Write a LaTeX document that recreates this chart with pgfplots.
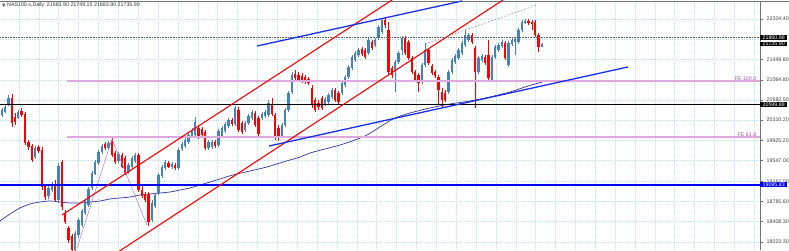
\documentclass[border=0pt]{standalone}
\usepackage{pgfplots}
\pgfplotsset{compat=1.18}
\usepackage{pgfplotstable}
\usepackage{fontspec}
\setmainfont{Liberation Sans}
\definecolor{cblue}{RGB}{70,130,180}
\definecolor{cred}{RGB}{255,0,0}
\definecolor{gridc}{RGB}{185,225,238}
\definecolor{fepink}{RGB}{222,170,222}
\definecolor{fetext}{RGB}{170,80,170}
\definecolor{maline}{RGB}{55,50,150}
\definecolor{tlblue}{RGB}{25,45,235}
\definecolor{hblue}{RGB}{0,0,235}
\pgfplotstableread{
x o h l c
2 20405 20536 20367 20498
5 20461 20592 20442 20555
8.5 20592 20780 20573 20723
18 20348 20498 20330 20461
35 19617 19823 19580 19786
48.5 18886 19073 18830 19036
52 18998 19148 18961 19111
58.5 18811 19505 18755 19448
75 17873 18230 17798 18192
78.5 18155 18473 18098 18436
82 18342 18642 18305 18605
85 18567 18830 18530 18792
88.5 18717 19055 18680 19017
92 19036 19355 18998 19317
95 19298 19561 19280 19523
98.5 19505 19748 19467 19711
102 19711 19861 19673 19823
108.5 19786 19917 19767 19880
118.5 19542 19711 19505 19673
128.5 19336 19505 19298 19467
132 19430 19636 19392 19598
135 19542 19692 19505 19655
152 18436 18811 18398 18755
155 18698 18942 18661 18905
158.5 18942 19317 18905 19280
162 19261 19467 19223 19430
165 19411 19561 19373 19523
172 19430 19523 19392 19486
178.5 19411 19786 19373 19748
182 19767 19898 19730 19861
185 19823 19973 19786 19936
188.5 19898 20067 19861 20030
192 19992 20161 19973 20105
195 20030 20367 19992 20273
208.5 19786 19936 19748 19898
212 19805 19936 19767 19898
218.5 19842 20142 19805 20105
222 20011 20198 19973 20161
225 20105 20273 20067 20236
228.5 20198 20348 20161 20311
235 20236 20573 20198 20536
245 20123 20292 20086 20255
248.5 20255 20423 20217 20386
252 20348 20498 20311 20461
262 20348 20461 20311 20423
265 20386 20498 20348 20461
268.5 20405 20686 20367 20630
282 20011 20255 19973 20217
285 20217 20536 20180 20498
288.5 20498 20855 20461 20817
292 20836 21211 20798 21155
325 20611 20742 20573 20705
328.5 20648 20817 20611 20780
332 20742 20911 20705 20873
342 20817 21042 20780 21005
345 20967 21155 20930 21117
348.5 21117 21342 21080 21305
352 21286 21530 21248 21492
355 21436 21605 21398 21567
358.5 21530 21661 21492 21623
368.5 21567 21848 21530 21811
375 21717 21848 21680 21811
378.5 21848 22092 21811 22055
382 21961 22223 21923 22186
395 21248 21436 20836 21398
398.5 21398 21605 21361 21567
402 21623 21886 21530 21848
422 21023 21380 20986 21342
425 21342 21755 21305 21623
448.5 20836 21248 20798 21211
452 21211 21473 21173 21436
455 21398 21548 21361 21511
458.5 21473 21661 21436 21623
462 21567 21792 21530 21755
465 21717 21998 21680 21905
468.5 21811 21942 21773 21905
478.5 21211 21511 21173 21473
482 21436 21548 21398 21511
492 21061 21530 21023 21492
495 21492 21717 21455 21680
498.5 21623 21755 21586 21717
502 21698 21811 21661 21773
508.5 21342 21792 21305 21755
512 21736 21848 21698 21811
515 21773 21867 21530 21830
518.5 21773 22036 21736 21998
522 21998 22186 21961 22148
525 22130 22205 22111 22167
542 21683.90 21749.15 21683.90 21735.90
}\upc
\pgfplotstableread{
x o h l c
12 20723 20798 20180 20255
15 20367 20442 20217 20273
21.5 20480 20536 20367 20405
25 20423 20461 19842 19880
28.5 19898 19936 19748 19805
32 19823 19861 19523 19561
38.5 19805 19842 19692 19730
42 19748 19805 18998 19055
45 19073 19111 18811 18867
55 19111 19186 18773 18811
62 19523 19561 18623 18680
65 18567 18623 18361 18398
68.5 18286 18323 18005 18061
72 18136 18173 17780 17873
105 19861 19898 19748 19786
112 19917 19973 19617 19655
115 19692 19730 19486 19523
122 19655 19692 19411 19430
125 19598 19636 19280 19317
138.5 19655 19692 18961 18998
142 18998 19073 18848 18886
145 18923 18961 18773 18811
148.5 18923 18961 18323 18398
168.5 19505 19542 19411 19430
175 19467 19505 19373 19411
198.5 20161 20217 19955 19992
202 20142 20180 19992 20030
205 20086 20123 19748 19786
215 19898 19936 19786 19823
232 20311 20348 20198 20236
238.5 20498 20555 20086 20123
242 20255 20292 20048 20086
255 20442 20480 20180 20217
258.5 20348 20386 19973 20048
272 20611 20723 20386 20423
275 20405 20442 19936 19992
278.5 20161 20217 19917 19973
295 21173 21248 21061 21098
298.5 21155 21211 21023 21061
302 21136 21192 21005 21061
305 21117 21155 20986 21023
308.5 21080 21117 20967 21005
312 20911 20967 20536 20592
315 20686 20723 20461 20498
318.5 20630 20686 20498 20555
322 20723 20761 20498 20536
335 20873 20911 20648 20686
338.5 20817 20855 20611 20648
362 21642 21680 21511 21548
365 21623 21661 21455 21492
372 21773 21811 21623 21661
385 22186 22223 22036 22092
388.5 21998 22148 21173 21211
392 21286 21323 21098 21155
405 21848 21886 21530 21567
408.5 21773 21811 21436 21473
412 21473 21511 21173 21211
415 21211 21248 21023 21061
418.5 21155 21192 20836 21005
428.5 21623 21661 21342 21380
432 21323 21361 21155 21192
435 21211 21248 21098 21136
438.5 21117 21155 20592 20873
442 20836 20911 20555 20686
445 20817 20873 20648 20686
472 21905 21942 21736 21773
475 21661 21698 20536 21211
485 21492 21530 21342 21380
488.5 21530 21811 21061 21098
505 21755 21792 21436 21473
528.5 22167 22205 22092 22130
532 22148 22186 21998 22111
535 22148 22186 21867 21905
538.5 21905 21942 21586 21680
}\dnc
\pgfplotstableread{
x y
0 18417
10 18548
20 18661
30 18736
40 18773
50 18792
60 18773
70 18755
80 18755
90 18773
100 18792
110 18830
120 18848
130 18867
140 18905
150 18923
160 18942
170 18961
180 18998
190 19036
200 19092
210 19148
220 19205
233 19280
250 19355
267 19430
283 19523
300 19617
310 19692
325 19767
340 19842
355 19936
367 20030
383 20217
395 20348
410 20442
430 20536
450 20611
470 20667
490 20742
510 20836
525 20930
542 21023
}\ma
\begin{document}
\begin{tikzpicture}[x=1pt,y=1pt,font=\fontsize{5.3}{6}\selectfont]
% vertical grid lines (behind the plot)
\foreach \gx in {19,38.87,...,760} \draw[draw=gridc, dash pattern=on 1pt off 1pt, line width=0.5pt] (\gx,0) -- (\gx,249);
\begin{axis}[
  at={(0,0)}, anchor=south west, scale only axis,
  width=760pt, height=249pt,
  xmin=0, xmax=760, ymin=17873.15, ymax=22542,
  axis x line*=top, axis y line*=right,
  axis line style={draw=black!55, line width=0.6pt},
  xtick=\empty,
  scaled y ticks=false, scaled x ticks=false,
  ytick={18023.30,18408.30,18785.60,19162.00,19547.00,19925.20,20310.20,20682.50,21064.80,21449.80,21827.10,22204.40},
  yticklabels={18023.30,18408.30,18785.60,19162.00,19547.00,19925.20,20310.20,20682.50,21064.80,21449.80,,22204.40},
  y tick style={draw=black!60, line width=0.5pt},
  tick align=outside, major tick length=2.5pt,
  yticklabel style={font=\fontsize{5.3}{6}\selectfont, text=black!75, inner sep=0pt, xshift=4pt},
  ymajorgrids,
  grid style={draw=gridc, dash pattern=on 1pt off 1pt, line width=0.5pt},
  clip=true,
  candle/.style={draw=none, mark=none, forget plot, error bars/.cd, y dir=plus, y explicit, error mark=none},
]
% moving average
\addplot[maline, line width=0.7pt, smooth] table[x=x,y=y] {\ma};
% candles: wicks and bodies
\addplot[candle, error bar style={draw=cblue, line width=0.7pt}] table[x=x, y=l, y error expr=\thisrow{h}-\thisrow{l}] {\upc};
\addplot[candle, error bar style={draw=cblue, line width=2.4pt}] table[x=x, y=o, y error expr=\thisrow{c}-\thisrow{o}] {\upc};
\addplot[candle, error bar style={draw=cred, line width=0.7pt}] table[x=x, y=l, y error expr=\thisrow{h}-\thisrow{l}] {\dnc};
\addplot[candle, error bar style={draw=cred, line width=2.4pt}] table[x=x, y=c, y error expr=\thisrow{o}-\thisrow{c}] {\dnc};
% dotted price line
\addplot[black!65, dash pattern=on 0.8pt off 0.8pt, line width=0.5pt] coordinates {(0,21860.98) (760,21860.98)};
% Fibonacci expansion
\addplot[fepink, line width=1.2pt] coordinates {(67,21042) (760,21042)};
\addplot[fepink, line width=1.2pt] coordinates {(67,19992) (760,19992)};
\addplot[fetext!80, line width=0.5pt] coordinates {(77,17911) (112,19955) (147,18342)};
% horizontal levels
\addplot[black, line width=1.8pt] coordinates {(0,20599.88) (760,20599.88)};
\addplot[hblue, line width=1.8pt] coordinates {(0,19095.83) (760,19095.83)};
% channel lines
\addplot[cred, line width=1.1pt] coordinates {(62,18530) (392,22561)};
\addplot[cred, line width=1.1pt] coordinates {(118,17836) (503,22561)};
\addplot[tlblue, line width=1.3pt] coordinates {(257,21698) (462,22542)};
\addplot[tlblue, line width=1.3pt] coordinates {(269,19823) (628,21305)};
\addplot[black!45, dash pattern=on 2pt off 1.5pt, line width=0.5pt] coordinates {(425,21736) (537,22467)};
% anchors for labels
\coordinate (p1) at (axis cs:760,21860.98);
\coordinate (p2) at (axis cs:760,21735.90);
\coordinate (p3) at (axis cs:760,20599.88);
\coordinate (p4) at (axis cs:760,19095.83);
\coordinate (f1) at (axis cs:757,21042);
\coordinate (f2) at (axis cs:757,19992);
\end{axis}
\draw[black!55, line width=0.6pt] (760,249) -- (789,249);
\node[anchor=south east, text=fetext, inner sep=0.5pt] at (f1) {FE 100.0};
\node[anchor=south east, text=fetext, inner sep=0.5pt] at (f2) {FE 61.8};
\node[anchor=west, fill=black, text=white, inner xsep=2.4pt, inner ysep=0.6pt] at (p1) {21860.98};
\node[anchor=west, fill=black, text=white, inner xsep=2.4pt, inner ysep=0.6pt] at (p2) {21735.90};
\node[anchor=west, fill=black, text=white, inner xsep=2.4pt, inner ysep=0.6pt] at (p3) {20599.88};
\node[anchor=west, fill=hblue, text=white, inner xsep=2.4pt, inner ysep=0.6pt] at (p4) {19095.83};
\fill[black!60] (2,246.5) -- (5.5,246.5) -- (3.75,243) -- cycle;
\node[anchor=west, text=black!80, inner sep=0pt] at (7,244.5) {NAS100.s,Daily\enspace 21683.90 21749.15 21683.90 21735.90};
\pgfresetboundingbox
\path[use as bounding box] (0,0) rectangle (789,250);
\end{tikzpicture}
\end{document}
